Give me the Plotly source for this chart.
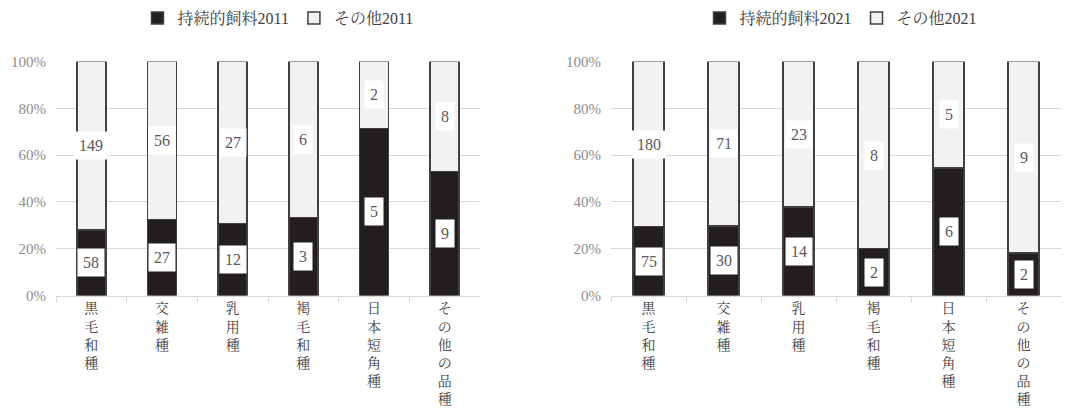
import plotly.graph_objects as go

# Breeds (x categories) and herd counts per feeding type
breeds = ["黒毛和種", "交雑種", "乳用種", "褐毛和種", "日本短角種", "その他の品種"]
sustainable_2011 = [58, 27, 12, 3, 5, 9]
other_2011 = [149, 56, 27, 6, 2, 8]
sustainable_2021 = [75, 30, 14, 2, 6, 2]
other_2021 = [180, 71, 23, 8, 5, 9]

SERIF = "Liberation Serif, Noto Serif CJK JP, Noto Sans CJK JP, serif"
DARK = "#231f20"
LIGHT = "#f2f2f2"
EDGE = "#404040"
GRID = "#d9d9d9"

# vertical category labels: one character per line
vertical = ["<br>".join(list(b)) for b in breeds]

fig = go.Figure()

panels = [
    ("x", "y", "legend", "持続的飼料2011", "その他2011", sustainable_2011, other_2011),
    ("x2", "y2", "legend2", "持続的飼料2021", "その他2021", sustainable_2021, other_2021),
]

annotations = []
for xa, ya, lg, name_a, name_b, a_vals, b_vals in panels:
    fig.add_trace(go.Bar(
        x=breeds, y=a_vals, name=name_a, xaxis=xa, yaxis=ya, legend=lg,
        marker=dict(color=DARK, line=dict(color=EDGE, width=1.5)),
        hoverinfo="skip",
    ))
    fig.add_trace(go.Bar(
        x=breeds, y=b_vals, name=name_b, xaxis=xa, yaxis=ya, legend=lg,
        marker=dict(color=LIGHT, line=dict(color=EDGE, width=1.5)),
        hoverinfo="skip",
    ))
    # value labels in white boxes at the middle of each stacked segment
    for cat, a, b in zip(breeds, a_vals, b_vals):
        frac = a / (a + b)
        for val, ymid in ((a, frac / 2), (b, (frac + 1) / 2)):
            annotations.append(dict(
                x=cat, y=ymid, xref=xa, yref=ya, text=str(val), showarrow=False,
                font=dict(family=SERIF, size=16, color="#595959"),
                bgcolor="white", borderpad=5,
            ))

H = 409.0
ydom = [1 - 295.5 / H, 1 - 61.5 / H]

axis_x = dict(
    type="category", showgrid=False, showline=True, linecolor=GRID, linewidth=1,
    ticks="outside", tickson="boundaries", ticklen=5, tickcolor=GRID,
    tickfont=dict(family=SERIF, size=14, color="#404040"),
    ticktext=vertical, tickvals=breeds, tickangle=0, fixedrange=True,
    automargin=False,
)
axis_y = dict(
    range=[0, 1], tickformat=".0%", dtick=0.2, showgrid=True, gridcolor=GRID,
    gridwidth=1, zeroline=False, showline=False, ticks="",
    tickfont=dict(family=SERIF, size=15, color="#8c8c8c"), ticklabelstandoff=9,
    fixedrange=True, automargin=False,
)

legend_style = dict(
    orientation="h", xanchor="center", yanchor="middle", y=1 - 18 / H,
    font=dict(family=SERIF, size=16, color="#404040"), bgcolor="rgba(0,0,0,0)",
    itemwidth=30, traceorder="normal",
)

fig.update_layout(
    width=1067, height=409,
    margin=dict(l=0, r=0, t=0, b=0),
    paper_bgcolor="white", plot_bgcolor="white",
    barmode="stack", barnorm="fraction", bargap=0.59,
    xaxis=dict(domain=[56 / 1067, 480 / 1067], anchor="y", **axis_x),
    yaxis=dict(domain=ydom, anchor="x", **axis_y),
    xaxis2=dict(domain=[611 / 1067, 1061 / 1067], anchor="y2", **axis_x),
    yaxis2=dict(domain=ydom, anchor="x2", **axis_y),
    legend=dict(x=278 / 1067, **legend_style),
    legend2=dict(x=841 / 1067, **legend_style),
    annotations=annotations,
    showlegend=True,
)

fig.write_html("out.html")
